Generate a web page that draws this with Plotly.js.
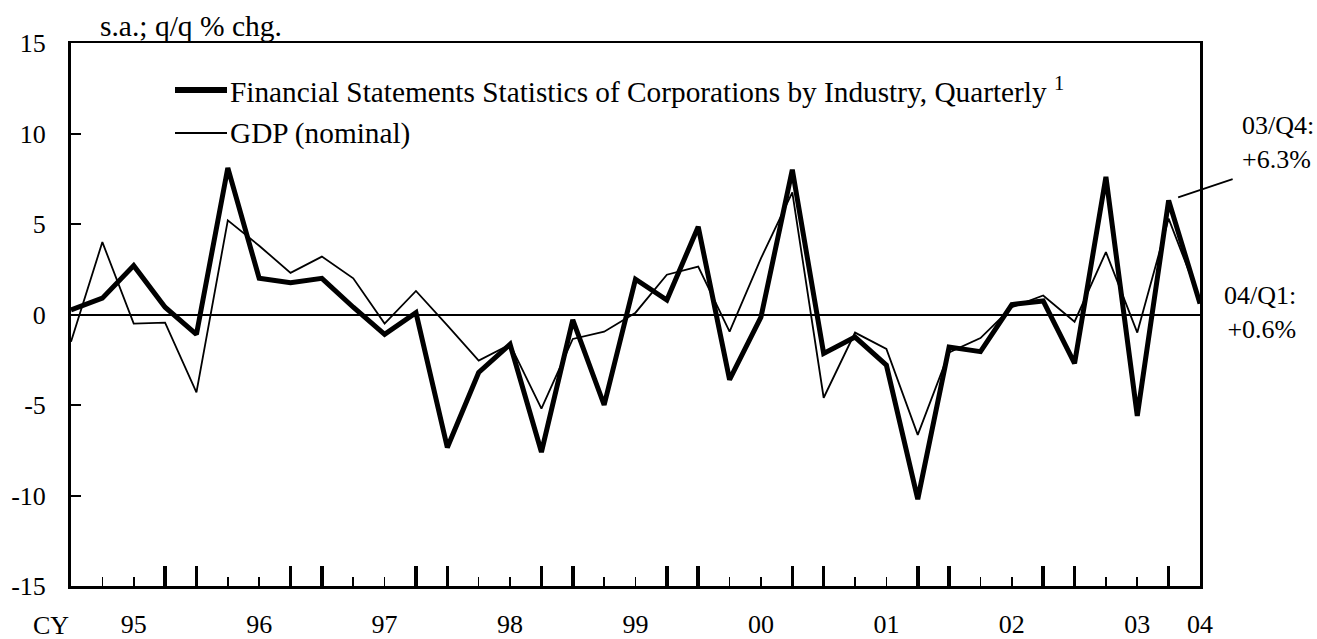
<!DOCTYPE html>
<html>
<head>
<meta charset="utf-8">
<script src="https://cdn.plot.ly/plotly-3.0.1.min.js"></script>
<style>
html,body{margin:0;padding:0;background:#fff;}
#chart{width:1317px;height:639px;}
</style>
</head>
<body>
<div id="chart"></div>
<script>
// Quarters from 1995 Q1 to 2004 Q1
const quarters = [
  '95Q1','95Q2','95Q3','95Q4','96Q1','96Q2','96Q3','96Q4',
  '97Q1','97Q2','97Q3','97Q4','98Q1','98Q2','98Q3','98Q4',
  '99Q1','99Q2','99Q3','99Q4','00Q1','00Q2','00Q3','00Q4',
  '01Q1','01Q2','01Q3','01Q4','02Q1','02Q2','02Q3','02Q4',
  '03Q1','03Q2','03Q3','03Q4','04Q1'
];
// Financial Statements Statistics of Corporations by Industry, Quarterly (s.a.; q/q % chg.)
const fssGrowth = [
  0.25, 0.9, 2.7, 0.4, -1.1, 8.1, 2.0, 1.75,
  2.0, 0.4, -1.1, 0.1, -7.35, -3.2, -1.65, -7.6,
  -0.3, -5.0, 1.95, 0.8, 4.85, -3.6, -0.15, 8.0,
  -2.15, -1.25, -2.8, -10.2, -1.8, -2.05, 0.55, 0.75,
  -2.7, 7.6, -5.6, 6.3, 0.6
];
// GDP (nominal) (s.a.; q/q % chg.)
const gdpGrowth = [
  -1.5, 4.0, -0.5, -0.45, -4.3, 5.2, 3.8, 2.3,
  3.2, 2.0, -0.5, 1.3, -0.6, -2.55, -1.65, -5.2,
  -1.35, -0.95, 0.1, 2.2, 2.65, -0.95, 3.1, 6.75,
  -4.6, -1.0, -1.9, -6.65, -2.1, -1.3, 0.4, 1.05,
  -0.4, 3.45, -1.0, 5.3, 0.8
];
const yearLabels = ['95','96','97','98','99','00','01','02','03','04'];
const yTickValues = [-15, -10, -5, 0, 5, 10, 15];
const seriesNames = [
  'Financial Statements Statistics of Corporations by Industry, Quarterly',
  'GDP (nominal)'
];
const unitLabel = 's.a.; q/q % chg.';
const axisPrefix = 'CY';

const xIdx = quarters.map((q, i) => i);
const lastIdx = quarters.length - 1;
// year labels sit at the 3rd quarter of each year; final year at its only quarter
const labelPos = yearLabels.map(y => {
  const k = quarters.indexOf(y + 'Q3');
  return k >= 0 ? k : quarters.indexOf(y + 'Q1');
});
const boldTickPos = xIdx.filter(i => i > 0 && i < lastIdx && /Q[14]$/.test(quarters[i]));
const smallTickPos = xIdx.filter(i => /Q[23]$/.test(quarters[i]));
const yTickText = yTickValues.map(v => String(v)); // plain hyphen minus

const fmt = v => (v >= 0 ? '+' : '') + v.toFixed(1) + '%';
const FONT = 'Liberation Serif, Times New Roman, serif';

const traces = [
  {x: xIdx, y: gdpGrowth, xaxis: 'x2', yaxis: 'y', type: 'scatter', mode: 'lines', name: seriesNames[1],
   line: {color: '#000', width: 1.8}, showlegend: false, hoverinfo: 'x+y'},
  {x: xIdx, y: fssGrowth, xaxis: 'x', yaxis: 'y', type: 'scatter', mode: 'lines', name: seriesNames[0],
   line: {color: '#000', width: 5}, showlegend: false, hoverinfo: 'x+y'}
];

const W = 1129, H = 543; // plot area size in px
const px = v => v / W, py = v => v / H;

const layout = {
  width: 1317, height: 639,
  margin: {l: 71, r: 117, t: 43, b: 53, pad: 0},
  paper_bgcolor: '#fff', plot_bgcolor: '#fff',
  font: {family: FONT, color: '#000', size: 26},
  showlegend: false,
  xaxis: {
    type: 'linear', range: [0, lastIdx], fixedrange: true,
    showline: true, linewidth: 2.5, linecolor: '#000', mirror: true,
    tickmode: 'array', tickvals: boldTickPos,
    ticks: 'inside', ticklen: 20, tickwidth: 3.5, tickcolor: '#000',
    showticklabels: false,
    minor: {tickmode: 'array', tickvals: smallTickPos, ticks: 'inside', ticklen: 9,
            tickwidth: 1.6, tickcolor: '#000', showgrid: false},
    showgrid: false, zeroline: false
  },
  xaxis2: {
    type: 'linear', range: [0, lastIdx], overlaying: 'x', anchor: 'y', side: 'bottom',
    tickmode: 'array', tickvals: labelPos, ticktext: yearLabels,
    ticks: '', ticklabelstandoff: 20,
    tickfont: {family: FONT, size: 26, color: '#000'},
    showline: false, showgrid: false, zeroline: false, fixedrange: true
  },
  yaxis: {
    range: [-15, 15], fixedrange: true,
    tickmode: 'array', tickvals: yTickValues, ticktext: yTickText,
    ticks: 'inside', ticklen: 10, tickwidth: 2, tickcolor: '#000',
    showline: true, linewidth: 3, linecolor: '#000', mirror: true,
    zeroline: true, zerolinewidth: 2, zerolinecolor: '#000',
    showgrid: false, ticklabelstandoff: 17,
    tickfont: {family: FONT, size: 26, color: '#000'}
  },
  shapes: [
    {type: 'line', xref: 'paper', yref: 'paper', x0: px(104), x1: px(156), y0: py(496), y1: py(496),
     line: {color: '#000', width: 6}},
    {type: 'line', xref: 'paper', yref: 'paper', x0: px(104), x1: px(156), y0: py(453), y1: py(453),
     line: {color: '#000', width: 1.8}}
  ],
  annotations: [
    {xref: 'paper', yref: 'paper', x: px(27), y: py(560), xanchor: 'left', yanchor: 'middle',
     text: unitLabel, showarrow: false, font: {family: FONT, size: 29.5}},
    {xref: 'paper', yref: 'paper', x: px(157), y: py(496), xanchor: 'left', yanchor: 'middle',
     text: seriesNames[0] + ' <sup>1</sup>', showarrow: false, font: {family: FONT, size: 29.3}},
    {xref: 'paper', yref: 'paper', x: px(157), y: py(453), xanchor: 'left', yanchor: 'middle',
     text: seriesNames[1], showarrow: false, font: {family: FONT, size: 29.3}},
    {xref: 'paper', yref: 'paper', x: px(1169), y: py(443.5), xanchor: 'left', yanchor: 'middle',
     align: 'left', text: quarters[lastIdx - 1].replace('Q', '/Q') + ':<br>' + fmt(fssGrowth[lastIdx - 1]),
     showarrow: false, font: {family: FONT, size: 26}},
    {xref: 'paper', yref: 'paper', x: px(1227), y: py(273.5), xanchor: 'right', yanchor: 'middle',
     align: 'right', text: quarters[lastIdx].replace('Q', '/Q') + ':<br>' + fmt(fssGrowth[lastIdx]),
     showarrow: false, font: {family: FONT, size: 26}},
    {xref: 'x', yref: 'y', x: lastIdx - 1, y: fssGrowth[lastIdx - 1], text: ' ',
     showarrow: true, arrowhead: 0, arrowwidth: 1.8, arrowcolor: '#000',
     ax: 66, ay: -22, standoff: 10, font: {size: 2}},
    {xref: 'paper', yref: 'paper', x: px(-20), y: py(-39), xanchor: 'center', yanchor: 'middle',
     text: axisPrefix, showarrow: false, font: {family: FONT, size: 26}}
  ]
};

Plotly.newPlot('chart', traces, layout, {displayModeBar: false, staticPlot: true});
</script>
</body>
</html>
